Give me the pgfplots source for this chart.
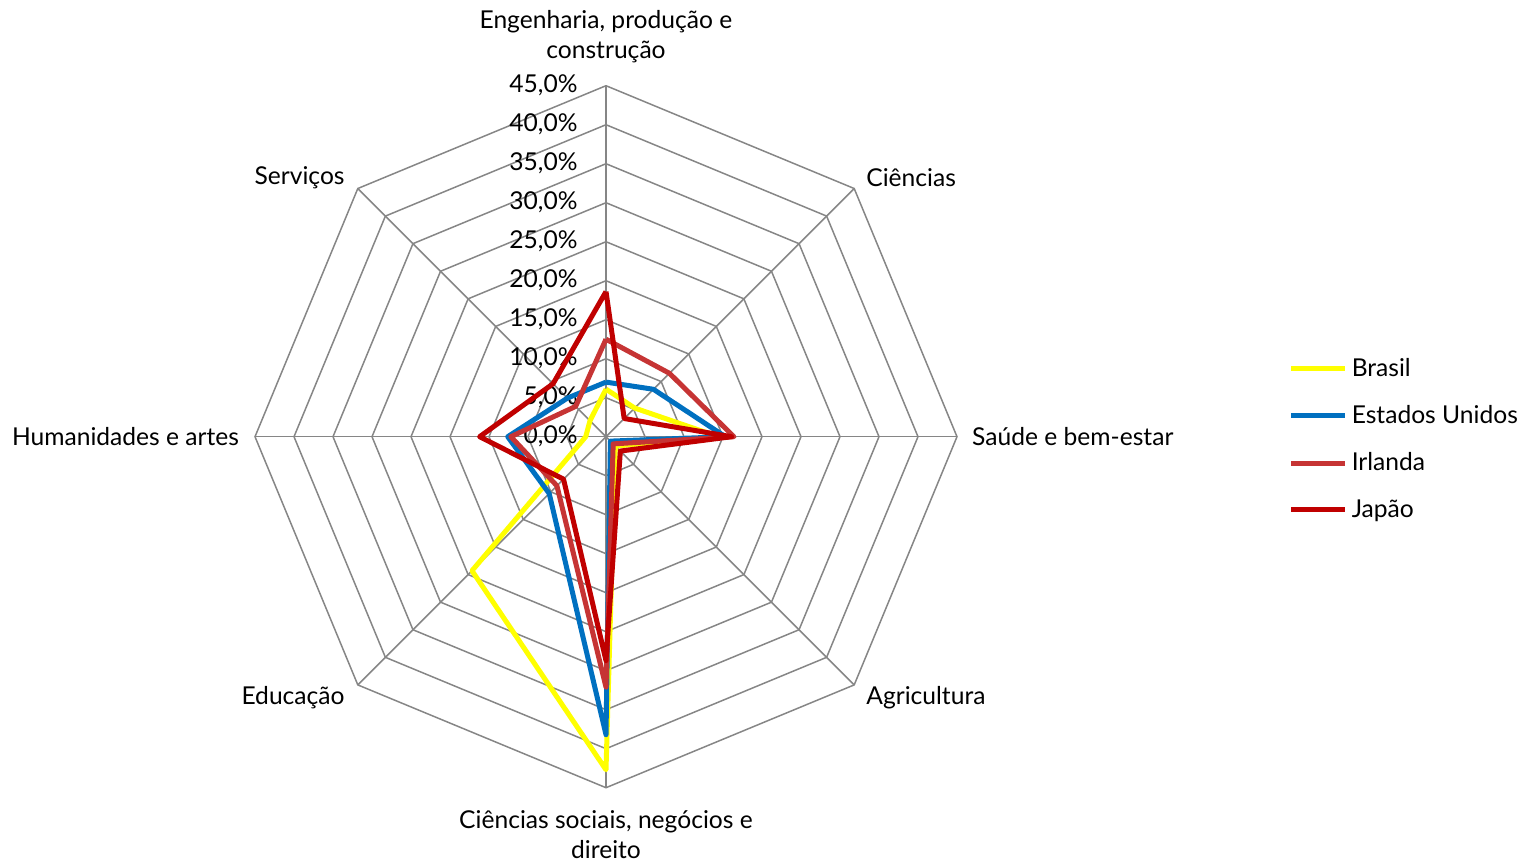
\documentclass[border=0pt]{standalone}
\usepackage{pgfplots}
\pgfplotsset{compat=1.18}
\usepackage{fontspec}
\setmainfont{Lato}
\definecolor{gridc}{RGB}{134,134,134}
\definecolor{cBR}{RGB}{255,255,0}
\definecolor{cUS}{RGB}{0,112,192}
\definecolor{cIE}{RGB}{198,52,52}
\definecolor{cJP}{RGB}{192,0,0}
\begin{document}
\begin{tikzpicture}
\useasboundingbox (0,0) rectangle (760.5pt,-431.5pt);
\begin{axis}[
  at={(303pt,-218.35pt)}, anchor=center,
  scale only axis, width=351pt, height=351pt,
  xmin=-45, xmax=45, ymin=-45, ymax=45,
  hide axis, clip=false,
  font=\fontsize{12.3}{15}\selectfont,
  legend style={at={(1.472,0.618)}, anchor=north west, draw=none, fill=none,
    font=\fontsize{12.3}{14}\selectfont, row sep=9pt, inner sep=0pt},
  legend cell align=left,
  legend image code/.code={\draw[#1] (0pt,0pt) -- (27pt,0pt);},
]
% grid octagons
\pgfplotsinvokeforeach{5,10,15,20,25,30,35,40,45}{
  \addplot[gridc, line width=0.75pt, data cs=polar, forget plot, mark=none]
    coordinates {(90,#1)(45,#1)(0,#1)(-45,#1)(-90,#1)(-135,#1)(180,#1)(135,#1)(90,#1)};
}
% spokes
\pgfplotsinvokeforeach{90,45,0,-45,-90,-135,180,135}{
  \addplot[gridc, line width=0.75pt, data cs=polar, forget plot, mark=none]
    coordinates {(#1,0)(#1,45)};
}
% radial tick labels
\pgfplotsinvokeforeach{0,5,10,15,20,25,30,35,40,45}{
  \node[anchor=east, inner sep=0pt] at (axis cs:-3.6,#1) {#1,0\%};
}
% category labels
\node[align=center, inner sep=0pt] at (axis cs:0,51.3) {Engenharia, produção e\\construção};
\node[anchor=west, inner sep=0pt] at (axis cs:33.33,33.17) {Ciências};
\node[anchor=west, inner sep=0pt] at (axis cs:46.9,0) {Saúde e bem-estar};
\node[anchor=west, inner sep=0pt] at (axis cs:33.33,-33.4) {Agricultura};
\node[align=center, inner sep=0pt] at (axis cs:0,-51.0) {Ciências sociais, negócios e\\direito};
\node[anchor=east, inner sep=0pt] at (axis cs:-33.46,-33.4) {Educação};
\node[anchor=east, inner sep=0pt] at (axis cs:-47.0,0) {Humanidades e artes};
\node[anchor=east, inner sep=0pt] at (axis cs:-33.46,33.17) {Serviços};
% data: Eng, Ciências, Saúde, Agricultura, Ciências sociais, Educação, Humanidades, Serviços
\addplot[cBR, line width=2.5pt, line join=round, data cs=polar, mark=none]
  coordinates {(90,6.1)(45,5.2)(0,14.4)(-45,1.7)(-90,42.7)(-135,24.3)(180,2.6)(135,2.9)(90,6.1)};
\addlegendentry{Brasil}
\addplot[cUS, line width=2.5pt, line join=round, data cs=polar, mark=none]
  coordinates {(90,7.0)(45,8.6)(0,15.3)(-45,0.8)(-90,38.2)(-135,10.3)(180,12.6)(135,7.0)(90,7.0)};
\addlegendentry{Estados Unidos}
\addplot[cIE, line width=2.5pt, line join=round, data cs=polar, mark=none]
  coordinates {(90,12.5)(45,11.5)(0,16.4)(-45,1.3)(-90,32.1)(-135,8.9)(180,12.2)(135,5.5)(90,12.5)};
\addlegendentry{Irlanda}
\addplot[cJP, line width=2.5pt, line join=round, data cs=polar, mark=none]
  coordinates {(90,18.6)(45,3.3)(0,16.1)(-45,2.6)(-90,28.7)(-135,7.7)(180,16.2)(135,9.6)(90,18.6)};
\addlegendentry{Japão}
\end{axis}
\end{tikzpicture}
\end{document}
